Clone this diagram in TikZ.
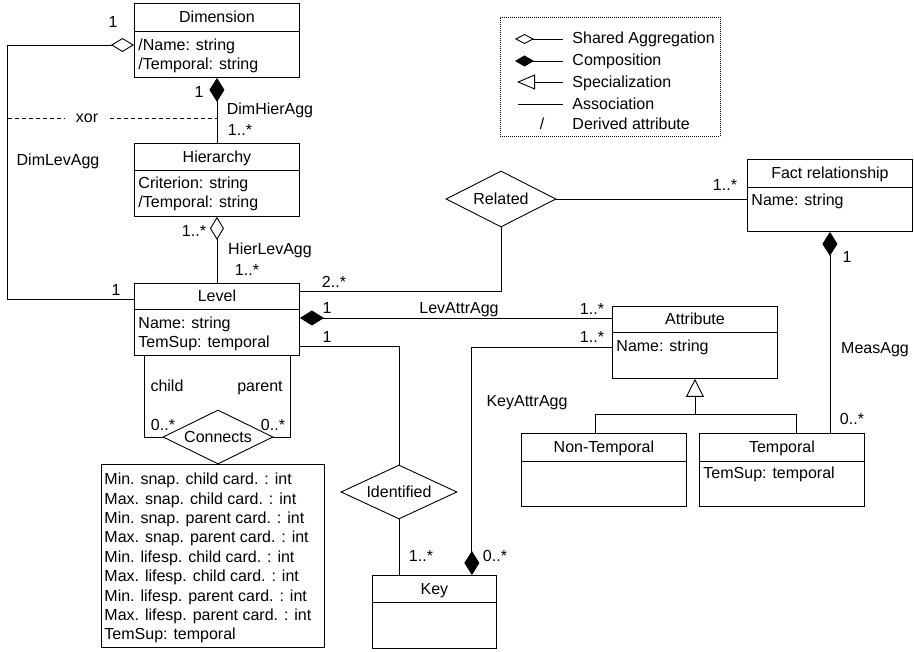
\documentclass[tikz,border=0pt]{standalone}
\usepackage{fontspec}
\setmainfont{Liberation Sans}
\usetikzlibrary{arrows.meta,shapes.geometric,calc}

% class box: name, left, top, width, height, header height, title
\newcommand\umlclass[7]{%
  \node[classbox,minimum width=#4pt,minimum height=#5pt,anchor=north west] (#1) at (#2,#3) {};
  \draw (#1.north west) ++(0,#6) coordinate (#1-d) -- ++(#4,0);
  \path (#1.north) ++(0,#6/2) node[lbl] (#1-title) {#7};
}
% attribute lines: node, x offset, first baseline offset, line step, list
\newcommand\attrs[5]{%
  \foreach \attrtxt [count=\attrno] in {#5} {
    \path (#1.north west) ++(#2,{#3+#4*(\attrno-1)}) node[attr] (#1-a\attrno) {\attrtxt};
  }
}

\begin{document}
\begin{tikzpicture}[x=1pt,y=-1pt,
  font=\fontsize{16}{19}\selectfont,
  line width=0.9pt,
  classbox/.style={draw,rectangle,inner sep=0pt},
  relbox/.style={draw,diamond,aspect=2,inner sep=0pt},
  lbl/.style={inner sep=0pt,anchor=base,yshift=-5.7pt},
  lgtxt/.style={inner sep=0pt,anchor=base west,yshift=-5.7pt},
  attr/.style={inner sep=0pt,anchor=base west},
  shared/.style={arrows={{Diamond[open,length=23pt,width=14pt]}-}},
  composite/.style={arrows={{Diamond[length=24pt,width=15pt]}-}},
  generalize/.style={arrows={-{Triangle[open,length=18pt,width=18pt]}}},
  lgshared/.style={arrows={{Diamond[open,length=19pt,width=10pt]}-}},
  lgcomposite/.style={arrows={{Diamond[length=19pt,width=11pt]}-}},
  lggeneralize/.style={arrows={{Triangle[open,length=18pt,width=15pt]}-}},
  xordash/.style={dash pattern=on 4pt off 3pt},
  legendframe/.style={draw,dash pattern=on 1pt off 1pt,line width=0.8pt,inner sep=0pt}]

\useasboundingbox (0,0) rectangle (914,652);

% ---------- classes ----------
\umlclass{Dimension}{134}{3}{165}{74}{28}{Dimension}
\attrs{Dimension}{4}{47.5}{19}{/Name: string,/Temporal: string}

\umlclass{Hierarchy}{134}{143}{165}{73}{27}{Hierarchy}
\attrs{Hierarchy}{4}{46}{19}{Criterion: string,/Temporal: string}

\umlclass{Level}{134}{283}{165}{72}{26}{Level}
\attrs{Level}{4}{45.5}{19.5}{Name: string,TemSup: temporal}

\umlclass{Fact}{747}{159}{165}{72}{28}{Fact relationship}
\attrs{Fact}{4}{46.5}{19}{Name: string}

\umlclass{Attribute}{612}{306}{165}{72}{26}{Attribute}
\attrs{Attribute}{4}{45.5}{19}{Name: string}

\umlclass{NonTemporal}{521}{433}{165}{73}{28}{Non-Temporal}

\umlclass{Temporal}{699}{433}{165}{73}{28}{Temporal}
\attrs{Temporal}{4}{45.5}{19}{TemSup: temporal}

\umlclass{Key}{372}{575}{124}{73}{27}{Key}

% attributes of the Connects relationship
\node[classbox,minimum width=223pt,minimum height=183pt,anchor=north west] (ConnAttr) at (101,464) {};
\attrs{ConnAttr}{3}{20.6}{19.4}{Min. snap. child card. : int,Max. snap. child card. : int,Min. snap. parent card. : int,Max. snap. parent card. : int,Min. lifesp. child card. : int,Max. lifesp. child card. : int,Min. lifesp. parent card. : int,Max. lifesp. parent card. : int,TemSup: temporal}

% ---------- relationships ----------
\node[relbox,minimum width=110pt,minimum height=56pt] (Related) at (501,199) {Related};
\node[relbox,minimum width=110pt,minimum height=54pt] (Connects) at (218,437) {Connects};
\node[relbox,minimum width=116pt,minimum height=54pt] (Identified) at (399,492) {Identified};

% ---------- connectors ----------
% DimLevAgg
\coordinate (dimL) at ($(Dimension.north west)+(0,42)$);
\coordinate (lvL) at ($(Level.north west)+(0,16)$);
\coordinate (leftX) at (7,0);
\draw[shared] (dimL) -- (dimL -| leftX) |- (lvL);

% DimHierAgg and HierLevAgg
\draw[composite] (Dimension.south) -- (Hierarchy.north);
\draw[shared] (Hierarchy.south) -- (Level.north);

% xor constraint
\coordinate (xorL) at (8,118);
\coordinate (xorA) at (65,118);
\coordinate (xorB) at (110,118);
\coordinate (xorR) at (217,118);
\draw[xordash] (xorL) -- (xorA);
\draw[xordash] (xorB) -- (xorR);
\node[lbl] (xor) at (87,116.5) {xor};

% Related
\coordinate (lvR) at ($(Level.north east)+(0,8)$);
\draw (lvR) -| (Related.south);
\draw (Related.east) -- (Related.east -| Fact.west);

% LevAttrAgg
\coordinate (lvA) at ($(Level.north east)+(0,35)$);
\draw[composite] (lvA) -- (lvA -| Attribute.west);

% Identified
\coordinate (lvI) at ($(Level.north east)+(0,63)$);
\draw (lvI) -| (Identified.north);
\draw (Identified.south) -- (Identified.south |- Key.north);

% KeyAttrAgg
\coordinate (atK) at ($(Attribute.north west)+(0,41)$);
\coordinate (kyA) at ($(Key.north east)+(-25,0)$);
\draw[composite] (kyA) |- (atK);

% Connects (child / parent)
\coordinate (lvC) at ($(Level.south west)+(10,0)$);
\coordinate (lvP) at ($(Level.south east)+(-9,0)$);
\draw (lvC) |- (Connects.west);
\draw (lvP) |- (Connects.east);

% MeasAgg
\draw[composite] (Fact.south) -- (Fact.south |- Temporal.north);

% specialization of Attribute
\coordinate (specJ) at ($(Attribute.south)+(0,36)$);
\coordinate (ntJ) at ($(NonTemporal.north)+(-9,0)$);
\coordinate (tJ) at ($(Temporal.north)+(14,0)$);
\draw[generalize] (specJ) -- (Attribute.south);
\draw (ntJ) |- (specJ) -| (tJ);

% ---------- role names and multiplicities ----------
\node[lbl] (m1) at (113,22) {1};
\node[lbl] (m2) at (199,92) {1};
\node[lbl] (n1) at (270,109) {DimHierAgg};
\node[lbl] (m3) at (240,130) {1..*};
\node[lbl] (n2) at (58,160) {DimLevAgg};
\node[lbl] (m4) at (194,231) {1..*};
\node[lbl] (n3) at (270,249) {HierLevAgg};
\node[lbl] (m5) at (247,270) {1..*};
\node[lbl] (m6) at (116,290) {1};
\node[lbl] (m7) at (334,282) {2..*};
\node[lbl] (m8) at (327,308) {1};
\node[lbl] (m9) at (327,337) {1};
\node[lbl] (n4) at (459,308) {LevAttrAgg};
\node[lbl] (m10) at (592,309) {1..*};
\node[lbl] (m11) at (592,337) {1..*};
\node[lbl] (n5) at (527,401) {KeyAttrAgg};
\node[lbl] (m12) at (725,185) {1..*};
\node[lbl] (m13) at (847,257) {1};
\node[lbl] (n6) at (875,348) {MeasAgg};
\node[lbl] (m14) at (852,419) {0..*};
\node[lbl] (r1) at (167,386) {child};
\node[lbl] (r2) at (260,386) {parent};
\node[lbl] (m15) at (163,425) {0..*};
\node[lbl] (m16) at (273,425) {0..*};
\node[lbl] (m17) at (421,556) {1..*};
\node[lbl] (m18) at (495,556) {0..*};

% ---------- legend ----------
\node[legendframe,minimum width=220pt,minimum height=119pt,anchor=north west] (Legend) at (500,17) {};
\coordinate (lg1s) at (515,39);  \coordinate (lg1e) at (563,39);
\coordinate (lg2s) at (515,61);  \coordinate (lg2e) at (563,61);
\coordinate (lg3s) at (517,82);  \coordinate (lg3e) at (563,82);
\coordinate (lg4s) at (518,104); \coordinate (lg4e) at (563,104);
\draw[lgshared] (lg1s) -- (lg1e);
\draw[lgcomposite] (lg2s) -- (lg2e);
\draw[lggeneralize] (lg3s) -- (lg3e);
\draw (lg4s) -- (lg4e);
\node[lbl] (lg5s) at (542,124) {/};
\node[lgtxt] (lg1) at (572,38) {Shared Aggregation};
\node[lgtxt] (lg2) at (572,60) {Composition};
\node[lgtxt] (lg3) at (572,82) {Specialization};
\node[lgtxt] (lg4) at (572,104) {Association};
\node[lgtxt] (lg5) at (572,124) {Derived attribute};

\end{tikzpicture}
\end{document}
